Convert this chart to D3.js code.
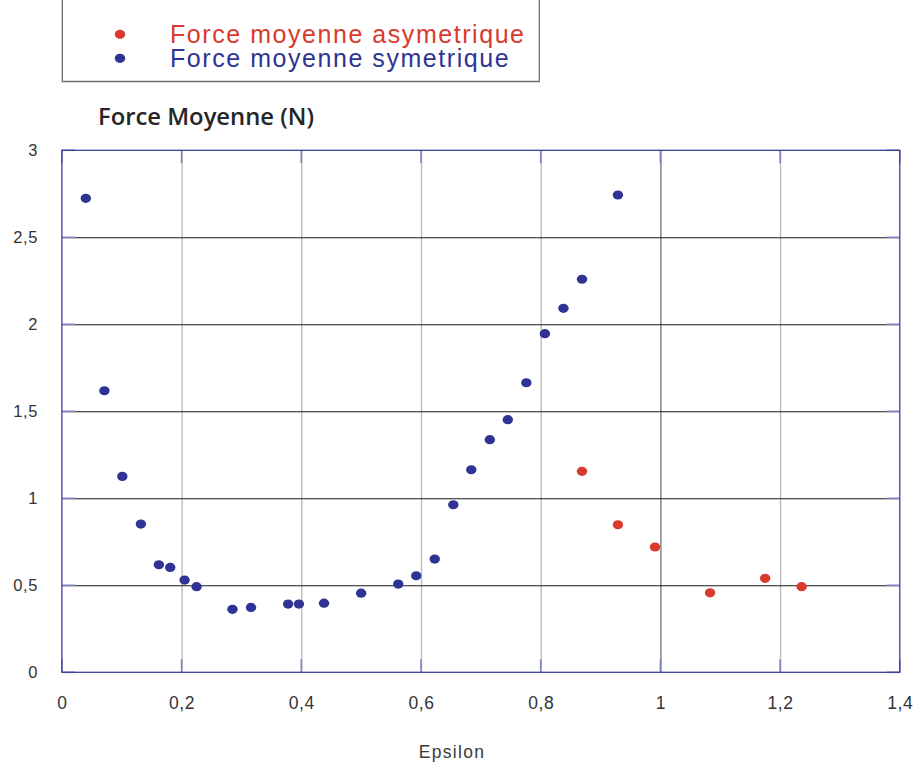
<!DOCTYPE html>
<html>
<head>
<meta charset="utf-8">
<script src="https://cdn.jsdelivr.net/npm/d3@7"></script>
<style>
  html, body { margin: 0; padding: 0; background: #fff; }
  svg { display: block; }
</style>
</head>
<body>
<script>
// Mean force (N) versus epsilon, symmetric and asymmetric configurations
const symEpsilon = [0.040, 0.071, 0.101, 0.132, 0.162, 0.181, 0.205, 0.225, 0.285, 0.316,
                    0.378, 0.396, 0.438, 0.500, 0.562, 0.592, 0.623, 0.654, 0.684, 0.715,
                    0.745, 0.776, 0.807, 0.838, 0.869, 0.929];
const symForce   = [2.724, 1.618, 1.126, 0.852, 0.618, 0.603, 0.530, 0.492, 0.362, 0.373,
                    0.392, 0.392, 0.397, 0.455, 0.507, 0.555, 0.651, 0.963, 1.164, 1.337,
                    1.452, 1.664, 1.946, 2.092, 2.259, 2.743];
const asymEpsilon = [0.869, 0.929, 0.991, 1.083, 1.175, 1.236];
const asymForce   = [1.155, 0.848, 0.720, 0.457, 0.540, 0.492];

const xTickValues = [0, 0.2, 0.4, 0.6, 0.8, 1, 1.2, 1.4];
const xTickLabels = ["0", "0,2", "0,4", "0,6", "0,8", "1", "1,2", "1,4"];
const yTickValues = [0, 0.5, 1, 1.5, 2, 2.5, 3];
const yTickLabels = ["0", "0,5", "1", "1,5", "2", "2,5", "3"];

const seriesNames = ["Force moyenne asymetrique", "Force moyenne symetrique"];
const seriesColors = ["#d93a2d", "#2f3393"];

const W = 916, H = 762;
const plot = { left: 61.9, right: 899.8, top: 150.3, bottom: 672.3 };

const x = d3.scaleLinear().domain([0, 1.4]).range([plot.left, plot.right]);
const y = d3.scaleLinear().domain([0, 3]).range([plot.bottom, plot.top]);

const svg = d3.select("body").append("svg")
  .attr("width", W).attr("height", H)
  .attr("viewBox", `0 0 ${W} ${H}`);

svg.append("rect").attr("width", W).attr("height", H).attr("fill", "#fff");

// vertical grid
const vGrid = svg.append("g")
  .attr("transform", `translate(0,${plot.bottom})`)
  .call(d3.axisBottom(x).tickValues(xTickValues.slice(1, -1)).tickSize(-(plot.bottom - plot.top)).tickFormat(""));
vGrid.select(".domain").remove();
vGrid.selectAll(".tick line")
  .attr("stroke", d => d === 1 ? "#7f7f7f" : "#bdbdbd")
  .attr("stroke-width", 1.4);

// horizontal grid
const hGrid = svg.append("g")
  .attr("transform", `translate(${plot.left},0)`)
  .call(d3.axisLeft(y).tickValues(yTickValues.slice(1, -1)).tickSize(-(plot.right - plot.left)).tickFormat(""));
hGrid.select(".domain").remove();
hGrid.selectAll(".tick line").attr("stroke", "#1a1a1a").attr("stroke-width", 1.1);

// short inner ticks along the frame
const tickLen = 13, tickColor = "#7d82c4";
const inner = svg.append("g").attr("stroke", tickColor).attr("stroke-width", 1.6);
yTickValues.forEach(v => {
  inner.append("line").attr("x1", plot.left).attr("x2", plot.left + tickLen).attr("y1", y(v)).attr("y2", y(v));
  inner.append("line").attr("x1", plot.right - tickLen).attr("x2", plot.right).attr("y1", y(v)).attr("y2", y(v));
});
xTickValues.forEach(v => {
  inner.append("line").attr("x1", x(v)).attr("x2", x(v)).attr("y1", plot.top).attr("y2", plot.top + tickLen);
  inner.append("line").attr("x1", x(v)).attr("x2", x(v)).attr("y1", plot.bottom - tickLen).attr("y2", plot.bottom);
});

// plot frame
svg.append("rect")
  .attr("x", plot.left).attr("y", plot.top)
  .attr("width", plot.right - plot.left).attr("height", plot.bottom - plot.top)
  .attr("fill", "none").attr("stroke", "#3a3f96").attr("stroke-width", 1.3);

// x tick labels
const xAxis = svg.append("g")
  .attr("transform", `translate(0,${plot.bottom})`)
  .call(d3.axisBottom(x).tickValues(xTickValues).tickSize(0).tickPadding(24)
    .tickFormat((d, i) => xTickLabels[i]));
xAxis.select(".domain").remove();
xAxis.selectAll("text")
  .attr("font-family", "'Liberation Sans', Arial, sans-serif")
  .attr("font-size", 17.5).attr("fill", "#333").attr("letter-spacing", 0.6);

// y tick labels
const yAxis = svg.append("g")
  .attr("transform", `translate(38,0)`)
  .call(d3.axisLeft(y).tickValues(yTickValues).tickSize(0).tickPadding(0)
    .tickFormat((d, i) => yTickLabels[i]));
yAxis.select(".domain").remove();
yAxis.selectAll("text")
  .attr("font-family", "'Liberation Sans', Arial, sans-serif")
  .attr("font-size", 16.5).attr("fill", "#333").attr("letter-spacing", 0.6);

// data points
const symData = symEpsilon.map((e, i) => ({ e, f: symForce[i] }));
const asymData = asymEpsilon.map((e, i) => ({ e, f: asymForce[i] }));

svg.append("g").selectAll("ellipse").data(symData).join("ellipse")
  .attr("cx", d => x(d.e)).attr("cy", d => y(d.f))
  .attr("rx", 5.2).attr("ry", 4.6).attr("fill", seriesColors[1]);

svg.append("g").selectAll("ellipse").data(asymData).join("ellipse")
  .attr("cx", d => x(d.e)).attr("cy", d => y(d.f))
  .attr("rx", 5.2).attr("ry", 4.6).attr("fill", seriesColors[0]);

// axis titles
svg.append("text")
  .attr("x", 98).attr("y", 125)
  .attr("font-family", "'Open Sans', sans-serif").attr("font-weight", 600)
  .attr("font-size", 23.8).attr("fill", "#262626")
  .text("Force Moyenne (N)");

svg.append("text")
  .attr("x", 452).attr("y", 758).attr("text-anchor", "middle")
  .attr("font-family", "'Liberation Sans', Arial, sans-serif")
  .attr("font-size", 17.5).attr("letter-spacing", 1.3).attr("fill", "#3a3a3a")
  .text("Epsilon");

// legend
const legend = svg.append("g");
legend.append("path")
  .attr("d", "M62.3,0 V81.5 H539.3 V0")
  .attr("fill", "none").attr("stroke", "#6f6f6f").attr("stroke-width", 1.3);

const legendRows = [34.3, 58.3];
seriesNames.forEach((name, i) => {
  legend.append("ellipse")
    .attr("cx", 120).attr("cy", legendRows[i])
    .attr("rx", 5.2).attr("ry", 4.6).attr("fill", seriesColors[i]);
  legend.append("text")
    .attr("x", 170).attr("y", legendRows[i] + 8.3)
    .attr("font-family", "'Liberation Sans', Arial, sans-serif")
    .attr("font-size", 25).attr("letter-spacing", 1.55)
    .attr("fill", seriesColors[i])
    .text(name);
});
</script>
</body>
</html>
